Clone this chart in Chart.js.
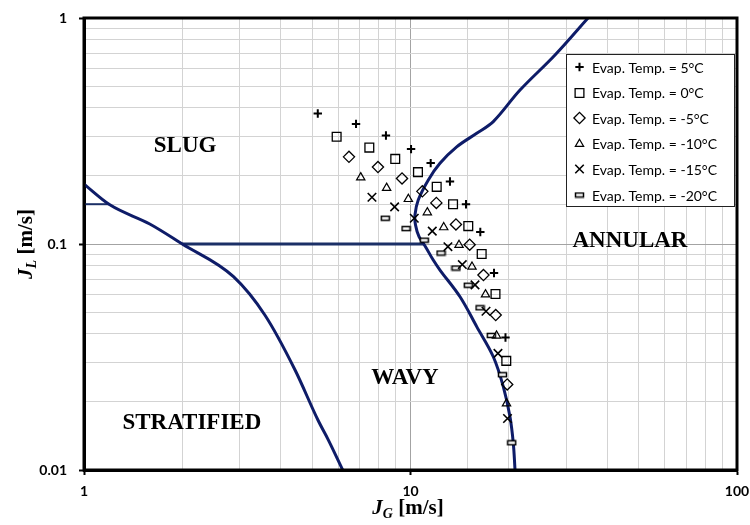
<!DOCTYPE html>
<html>
<head>
<meta charset="utf-8">
<script src="https://cdn.jsdelivr.net/npm/chart.js@4.4.0/dist/chart.umd.min.js"></script>
<style>
  html, body { margin: 0; padding: 0; background: #fff; }
  #wrap { width: 750px; height: 525px; }
</style>
</head>
<body>
<div id="wrap"><canvas id="c" width="750" height="525"></canvas></div>
<script>
// ---- Measured superficial velocities (J_G, J_L) per evaporation temperature ----
const seriesLabels = [
  'Evap. Temp. = 5°C', 'Evap. Temp. = 0°C', 'Evap. Temp. = -5°C',
  'Evap. Temp. = -10°C', 'Evap. Temp. = -15°C', 'Evap. Temp. = -20°C'
];
const jgT5   = [5.20, 6.81, 8.41, 10.04, 11.53, 13.21, 14.79, 16.36, 18.02, 19.54];
const jlT5   = [0.378, 0.340, 0.302, 0.263, 0.228, 0.189, 0.150, 0.113, 0.0744, 0.0386];
const jgT0   = [5.94, 7.48, 8.98, 10.54, 12.03, 13.50, 15.03, 16.52, 18.21, 19.65];
const jlT0   = [0.298, 0.267, 0.238, 0.208, 0.179, 0.150, 0.120, 0.0903, 0.0601, 0.0304];
const jgTm5  = [6.48, 7.95, 9.42, 10.87, 12.00, 13.78, 15.18, 16.73, 18.24, 19.78];
const jlTm5  = [0.243, 0.219, 0.195, 0.171, 0.152, 0.122, 0.0993, 0.0729, 0.0485, 0.0239];
const jgTm10 = [7.04, 8.45, 9.85, 11.26, 12.64, 14.08, 15.43, 16.97, 18.34, 19.68];
const jlTm10 = [0.197, 0.177, 0.158, 0.138, 0.1185, 0.0990, 0.0793, 0.0598, 0.0393, 0.0197];
const jgTm15 = [7.62, 8.94, 10.27, 11.66, 13.02, 14.41, 15.76, 17.03, 18.53, 19.82];
const jlTm15 = [0.161, 0.146, 0.130, 0.114, 0.0973, 0.0811, 0.0659, 0.0504, 0.0328, 0.0169];
const jgTm20 = [8.37, 9.69, 11.02, 12.40, 13.78, 15.03, 16.33, 17.68, 19.13, 20.42];
const jlTm20 = [0.130, 0.117, 0.104, 0.0912, 0.0783, 0.0657, 0.0522, 0.0394, 0.0264, 0.0132];

// ---- Flow-pattern map transition boundaries ----
const stratWavyJG = [1.00, 1.20, 1.59, 2.00, 2.87, 3.58, 4.43, 5.21, 5.60, 6.20];
const stratWavyJL = [0.184, 0.149, 0.1226, 0.100, 0.0717, 0.0485, 0.0277, 0.0166, 0.0136, 0.010];
const annularJG = [34.97, 27.71, 21.65, 17.93, 15.95, 13.85, 12.31, 11.34, 10.56, 10.32, 10.36,
                   10.62, 11.08, 11.74, 12.31, 14.18, 15.95, 17.93, 19.24, 20.17, 20.65, 20.90];
const annularJL = [1.0, 0.686, 0.480, 0.348, 0.309, 0.269, 0.2275, 0.192, 0.1565, 0.1344, 0.1214,
                   0.1077, 0.098, 0.0849, 0.0767, 0.0584, 0.0431, 0.0317, 0.0234, 0.0172, 0.0131, 0.010];
const slugWavyJG = [2.0, 10.95];
const slugWavyJL = [0.1, 0.1];
const stratSlugJG = [1.0, 1.2];
const stratSlugJL = [0.15, 0.15];

// ---- Axis ranges and region names ----
const xRange = [1, 100];
const yRange = [0.01, 1];
const regionNames = ['SLUG', 'ANNULAR', 'WAVY', 'STRATIFIED'];
const regionJG = [2.04, 47.0, 9.62, 2.14];
const regionJL = [0.274, 0.104, 0.0258, 0.0163];

// ---- helpers ----
const pts = (xs, ys) => xs.map((x, i) => ({ x: x, y: ys[i] }));
const isDecade = v => Math.abs(Math.log10(v) - Math.round(Math.log10(v))) < 1e-6;
const fmtDecade = v => v >= 1 ? String(Math.round(v)) : v.toFixed(-Math.round(Math.log10(v)));

// flat rectangle marker ("-")
const dashMarker = (() => {
  const cv = document.createElement('canvas');
  cv.width = 11; cv.height = 7;
  const g = cv.getContext('2d');
  g.fillStyle = '#fff';
  g.fillRect(1.5, 1.5, 8, 4);
  g.strokeStyle = '#000';
  g.lineWidth = 1.5;
  g.strokeRect(1.5, 1.5, 8, 4);
  return cv;
})();

const markerStyles = [
  { pointStyle: 'cross',    radius: 4.2, borderWidth: 2 },
  { pointStyle: 'rect',     radius: 6.2, borderWidth: 1.3 },
  { pointStyle: 'rectRot',  radius: 5.6, borderWidth: 1.3 },
  { pointStyle: 'triangle', radius: 4.8, borderWidth: 1.2 },
  { pointStyle: 'crossRot', radius: 6.0, borderWidth: 1.6 },
  { pointStyle: dashMarker, radius: 5,   borderWidth: 1 }
];
const seriesX = [jgT5, jgT0, jgTm5, jgTm10, jgTm15, jgTm20];
const seriesY = [jlT5, jlT0, jlTm5, jlTm10, jlTm15, jlTm20];

const pointSets = seriesLabels.map((lab, i) => ({
  label: lab,
  data: pts(seriesX[i], seriesY[i]),
  showLine: false,
  pointStyle: markerStyles[i].pointStyle,
  pointRadius: markerStyles[i].radius,
  pointBorderWidth: markerStyles[i].borderWidth,
  pointBorderColor: '#000',
  pointBackgroundColor: 'rgba(0,0,0,0)',
  order: 1
}));

const curveColor = '#0e1c68';
const lineSet = (xs, ys, color, width, tension, mono) => ({
  label: '',
  data: pts(xs, ys),
  showLine: true,
  borderColor: color,
  borderWidth: width,
  pointRadius: 0,
  tension: tension,
  cubicInterpolationMode: mono ? 'monotone' : 'default',
  fill: false,
  order: 10
});

const boundarySets = [
  lineSet(stratWavyJG, stratWavyJL, curveColor, 3, 0.4, true),
  lineSet(annularJG, annularJL, curveColor, 3, 0.35, false),
  lineSet(slugWavyJG, slugWavyJL, '#1b2f66', 3, 0, false),
  lineSet(stratSlugJG, stratSlugJL, '#1b2f66', 2, 0, false)
];

// ---- frame, legend box, axis titles and region names ----
const decor = {
  id: 'decor',
  afterDatasetsDraw(chart) {
    const ctx = chart.ctx;
    const a = chart.chartArea;
    ctx.save();
    ctx.strokeStyle = '#000';
    ctx.lineWidth = 3;
    ctx.strokeRect(a.left, a.top, a.right - a.left, a.bottom - a.top);

    // legend box
    const bx = 566, by = 54, bw = 168, bh = 152;
    ctx.fillStyle = '#fff';
    ctx.fillRect(bx, by, bw, bh);
    ctx.strokeStyle = '#222';
    ctx.lineWidth = 1;
    ctx.strokeRect(bx + 0.5, by + 0.5, bw, bh);
    ctx.font = '14px Lato';
    ctx.textBaseline = 'middle';
    ctx.textAlign = 'left';
    seriesLabels.forEach((lab, i) => {
      const y = 67 + i * 25.6;
      ctx.save();
      ctx.strokeStyle = '#000';
      ctx.fillStyle = 'rgba(0,0,0,0)';
      ctx.lineWidth = markerStyles[i].borderWidth;
      Chart.helpers.drawPoint(ctx, {
        pointStyle: markerStyles[i].pointStyle,
        radius: markerStyles[i].radius,
        rotation: 0,
        borderWidth: markerStyles[i].borderWidth
      }, 579.5, Math.round(y));
      ctx.restore();
      ctx.fillStyle = '#000';
      ctx.fillText(lab, 592, y + 1);
    });
    ctx.restore();
  },
  afterDraw(chart) {
    const ctx = chart.ctx;
    const xs = chart.scales.x, ys = chart.scales.y;
    ctx.save();
    ctx.fillStyle = '#000';
    // region names
    ctx.font = 'bold 23px "Liberation Serif"';
    ctx.textAlign = 'center';
    ctx.textBaseline = 'middle';
    regionNames.forEach((n, i) => {
      ctx.fillText(n, xs.getPixelForValue(regionJG[i]), ys.getPixelForValue(regionJL[i]) + 1);
    });

    // axis titles: J with subscript
    const title = (sub, cx, cy, rot) => {
      ctx.save();
      ctx.translate(cx, cy);
      if (rot) ctx.rotate(-Math.PI / 2);
      ctx.textAlign = 'left';
      ctx.textBaseline = 'alphabetic';
      const fJ = 'italic bold 21px "Liberation Serif"';
      const fS = 'italic bold 14px "Liberation Serif"';
      const fR = 'bold 21px "Liberation Serif"';
      ctx.font = fJ; const w1 = ctx.measureText('J').width;
      ctx.font = fS; const w2 = ctx.measureText(sub).width;
      ctx.font = fR; const w3 = ctx.measureText(' [m/s]').width;
      let x0 = -(w1 + w2 + w3) / 2;
      ctx.font = fJ; ctx.fillText('J', x0, 7);
      ctx.font = fS; ctx.fillText(sub, x0 + w1, 11);
      ctx.font = fR; ctx.fillText(' [m/s]', x0 + w1 + w2, 7);
      ctx.restore();
    };
    title('G', 408, 507, false);
    title('L', 25, 244, true);
    ctx.restore();
  }
};

const gridColor = c => (c.tick && isDecade(c.tick.value)) ? '#a3a3a3' : '#d3d3d3';
const tickColor = c => (c.tick && isDecade(c.tick.value)) ? '#000' : 'rgba(0,0,0,0)';
const tickFont = { family: 'Lato', weight: 'bold', size: 14 };

new Chart(document.getElementById('c'), {
  type: 'scatter',
  data: { datasets: boundarySets.concat(pointSets) },
  plugins: [decor],
  options: {
    responsive: false,
    animation: false,
    devicePixelRatio: 1,
    layout: { padding: { top: 18, right: 13, left: 0, bottom: 0 } },
    plugins: { legend: { display: false }, tooltip: { enabled: false } },
    scales: {
      x: {
        type: 'logarithmic',
        min: xRange[0], max: xRange[1],
        afterFit: s => { s.height = 55; s.paddingLeft = 0; s.paddingRight = 0; },
        grid: { color: gridColor, lineWidth: 1, drawTicks: true, tickLength: 5, tickColor: tickColor, tickWidth: 2 },
        border: { display: true, color: '#000', width: 3 },
        ticks: { autoSkip: false, maxRotation: 0, padding: 8, color: '#000', font: tickFont,
                 callback: v => isDecade(v) ? fmtDecade(v) : '' }
      },
      y: {
        type: 'logarithmic',
        min: yRange[0], max: yRange[1],
        afterFit: s => { s.width = 84; s.paddingTop = 0; s.paddingBottom = 0; },
        grid: { color: gridColor, lineWidth: 1, drawTicks: true, tickLength: 5, tickColor: tickColor, tickWidth: 2 },
        border: { display: true, color: '#000', width: 3 },
        ticks: { autoSkip: false, padding: 12, color: '#000', font: tickFont,
                 callback: v => isDecade(v) ? fmtDecade(v) : '' }
      }
    }
  }
});
</script>
</body>
</html>
